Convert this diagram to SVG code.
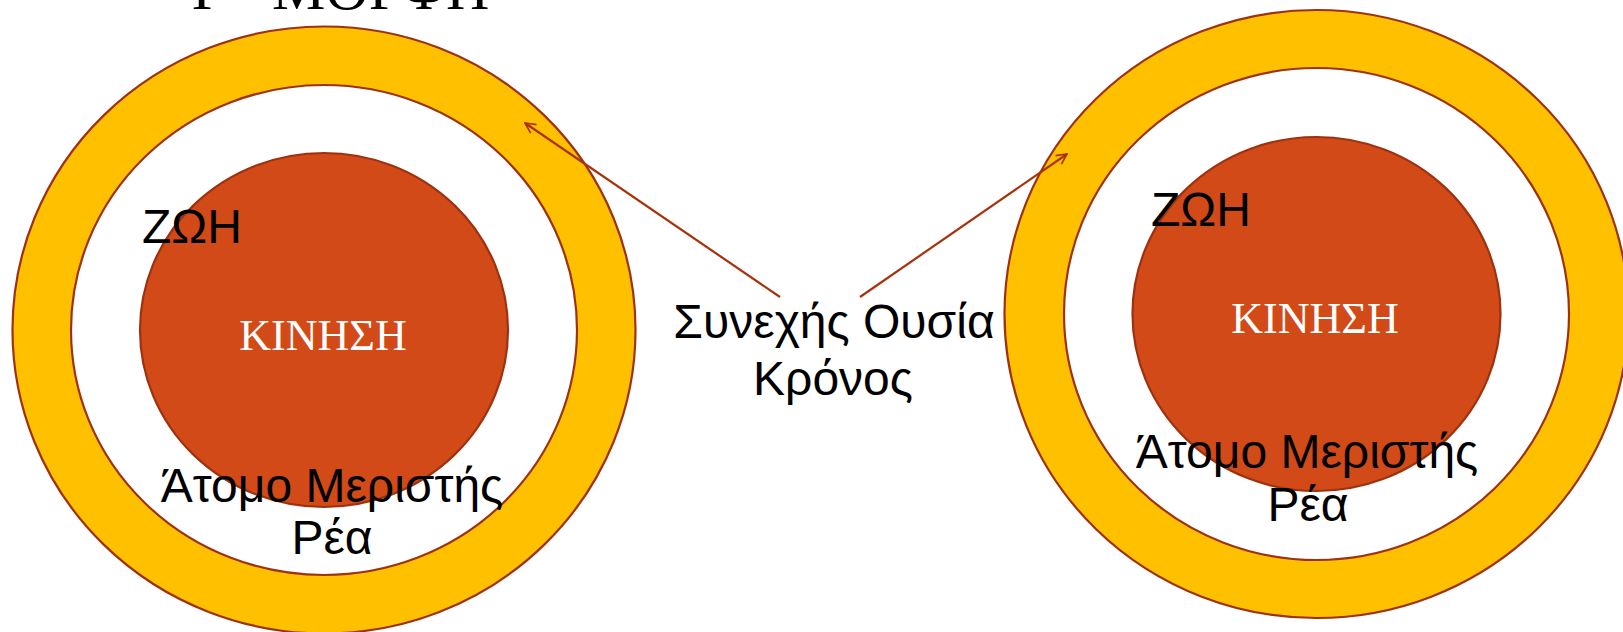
<svg xmlns="http://www.w3.org/2000/svg" width="1623" height="632" viewBox="0 0 1623 632">
<defs>
<style>
.outer{fill:#FFC000;stroke:#9E3210;stroke-width:2.2}
.inner{fill:#FFFFFF;stroke:#9E3210;stroke-width:2.2}
.core{fill:#D14A17;stroke:#9E3210;stroke-width:2.2}
.lbl{font-family:"Liberation Sans",Arial,sans-serif;font-size:48px;fill:#000}
.core-lbl{font-family:"Liberation Serif","Times New Roman",serif;font-size:44px;fill:#FFFFFF}
.title{font-family:"Liberation Serif","Times New Roman",serif;font-size:60px;fill:#000}
.conn{stroke:#A8320C;stroke-width:2.2;fill:none}
</style>
<marker id="arr" viewBox="0 0 20 20" refX="18" refY="10" markerWidth="13" markerHeight="13" orient="auto" markerUnits="userSpaceOnUse">
<path d="M2,2 L18,10 L2,18" fill="none" stroke="#A8320C" stroke-width="2.6"/>
</marker>
</defs>
<rect width="1623" height="632" fill="#FFFFFF"/>
<text class="title" y="9"><tspan x="192">Γ</tspan><tspan x="272">ΜΟΡΦΗ</tspan></text>
<g id="left-node">
<ellipse class="outer" cx="324" cy="330" rx="311.5" ry="303.5"/>
<ellipse class="inner" cx="324" cy="330" rx="253" ry="245"/>
<ellipse class="core" cx="324" cy="330" rx="184" ry="177"/>
<text class="lbl" x="142" y="243">ΖΩΗ</text>
<text class="core-lbl" x="323" y="350" text-anchor="middle">ΚΙΝΗΣΗ</text>
<text class="lbl" x="332" y="502" text-anchor="middle">Άτομο Μεριστής</text>
<text class="lbl" x="332" y="554" text-anchor="middle">Ρέα</text>
</g>
<g id="right-node">
<ellipse class="outer" cx="1316.5" cy="314" rx="312" ry="304"/>
<ellipse class="inner" cx="1316.5" cy="314" rx="252.5" ry="246"/>
<ellipse class="core" cx="1316.5" cy="314" rx="184" ry="177"/>
<text class="lbl" x="1151" y="226">ΖΩΗ</text>
<text class="core-lbl" x="1315" y="333" text-anchor="middle">ΚΙΝΗΣΗ</text>
<text class="lbl" x="1307" y="468" text-anchor="middle">Άτομο Μεριστής</text>
<text class="lbl" x="1308" y="521" text-anchor="middle">Ρέα</text>
</g>
<g id="center-label">
<text class="lbl" x="834" y="338" text-anchor="middle">Συνεχής Ουσία</text>
<text class="lbl" x="833" y="395" text-anchor="middle">Κρόνος</text>
</g>
<g id="connectors">
<line class="conn" x1="780" y1="297" x2="525" y2="123" marker-end="url(#arr)"/>
<line class="conn" x1="860" y1="297" x2="1067" y2="154" marker-end="url(#arr)"/>
</g>
</svg>
